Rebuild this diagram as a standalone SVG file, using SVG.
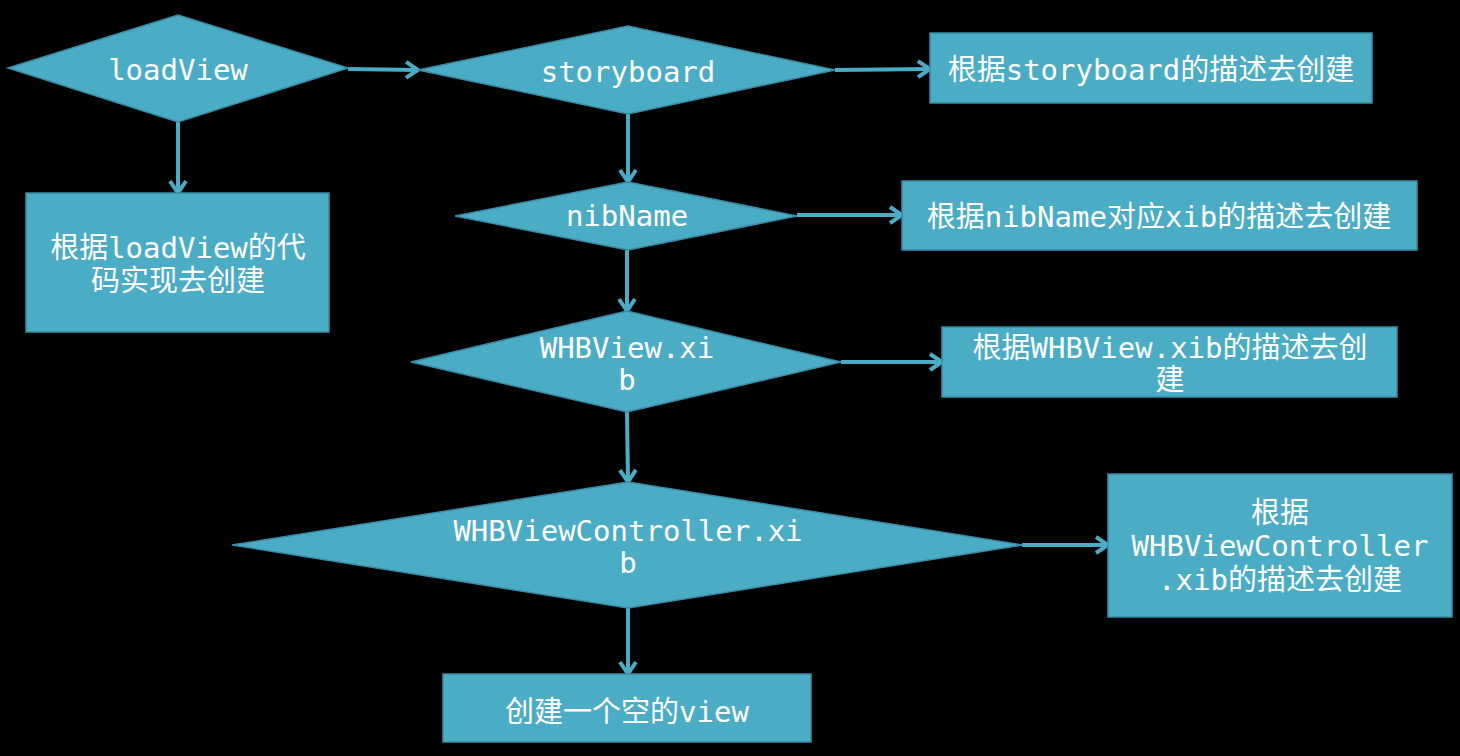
<svg xmlns="http://www.w3.org/2000/svg" width="1460" height="756" viewBox="0 0 1460 756">
<defs>
<style>
.shape{fill:#4BACC6;stroke:#3A8CA6;stroke-width:1.5}
.t{font-family:"DejaVu Sans Mono","Noto Sans CJK SC",monospace;font-size:29px;fill:#FFFFFF;text-anchor:middle}
.c{fill:none;stroke:#4BACC6;stroke-width:4}
</style>
<marker id="arr" viewBox="0 0 16 20" refX="14" refY="10" markerWidth="16" markerHeight="20" markerUnits="userSpaceOnUse" orient="auto">
<path d="M2,2 L14,10 L2,18" fill="none" stroke="#4BACC6" stroke-width="4"/>
</marker>
</defs>
<rect x="0" y="0" width="1460" height="756" fill="#000000"/>
<g id="connectors">
<path class="c" d="M348,69 L418,70" marker-end="url(#arr)"/>
<path class="c" d="M178,122 L178,193" marker-end="url(#arr)"/>
<path class="c" d="M835,70 L930,69" marker-end="url(#arr)"/>
<path class="c" d="M628,114 L628,182" marker-end="url(#arr)"/>
<path class="c" d="M797,215 L902,215" marker-end="url(#arr)"/>
<path class="c" d="M627,250 L627,311" marker-end="url(#arr)"/>
<path class="c" d="M841,362 L942,362" marker-end="url(#arr)"/>
<path class="c" d="M627,412 L628,482" marker-end="url(#arr)"/>
<path class="c" d="M1022,545 L1108,545" marker-end="url(#arr)"/>
<path class="c" d="M628,608 L628,674" marker-end="url(#arr)"/>
</g>
<g id="loadView">
<polygon class="shape" points="8,68 178,15 348,68 178,122"/>
<text class="t" x="178" y="80">loadView</text>
</g>
<g id="loadViewBox">
<rect class="shape" x="26" y="193" width="303" height="139"/>
<text class="t" x="178" y="258">根据loadView的代</text>
<text class="t" x="178" y="291">码实现去创建</text>
</g>
<g id="storyboard">
<polygon class="shape" points="418,70 628,26 835,70 628,114"/>
<text class="t" x="628" y="82">storyboard</text>
</g>
<g id="storyboardBox">
<rect class="shape" x="930" y="33" width="442" height="70"/>
<text class="t" x="1151" y="80">根据storyboard的描述去创建</text>
</g>
<g id="nibName">
<polygon class="shape" points="455,216 628,182 797,216 628,250"/>
<text class="t" x="627" y="226">nibName</text>
</g>
<g id="nibNameBox">
<rect class="shape" x="902" y="181" width="515" height="69"/>
<text class="t" x="1159" y="227">根据nibName对应xib的描述去创建</text>
</g>
<g id="whbViewXib">
<polygon class="shape" points="411,362 627,311 841,362 627,412"/>
<text class="t" x="627" y="358">WHBView.xi</text>
<text class="t" x="627" y="390">b</text>
</g>
<g id="whbViewXibBox">
<rect class="shape" x="942" y="327" width="455" height="70"/>
<text class="t" x="1170" y="358">根据WHBView.xib的描述去创</text>
<text class="t" x="1170" y="390">建</text>
</g>
<g id="whbVCXib">
<polygon class="shape" points="232,545 628,482 1022,545 628,608"/>
<text class="t" x="628" y="541">WHBViewController.xi</text>
<text class="t" x="628" y="573">b</text>
</g>
<g id="whbVCXibBox">
<rect class="shape" x="1108" y="474" width="344" height="143"/>
<text class="t" x="1280" y="523">根据</text>
<text class="t" x="1280" y="556">WHBViewController</text>
<text class="t" x="1280" y="590">.xib的描述去创建</text>
</g>
<g id="emptyView">
<rect class="shape" x="443" y="674" width="368" height="68"/>
<text class="t" x="627" y="722">创建一个空的view</text>
</g>
</svg>
